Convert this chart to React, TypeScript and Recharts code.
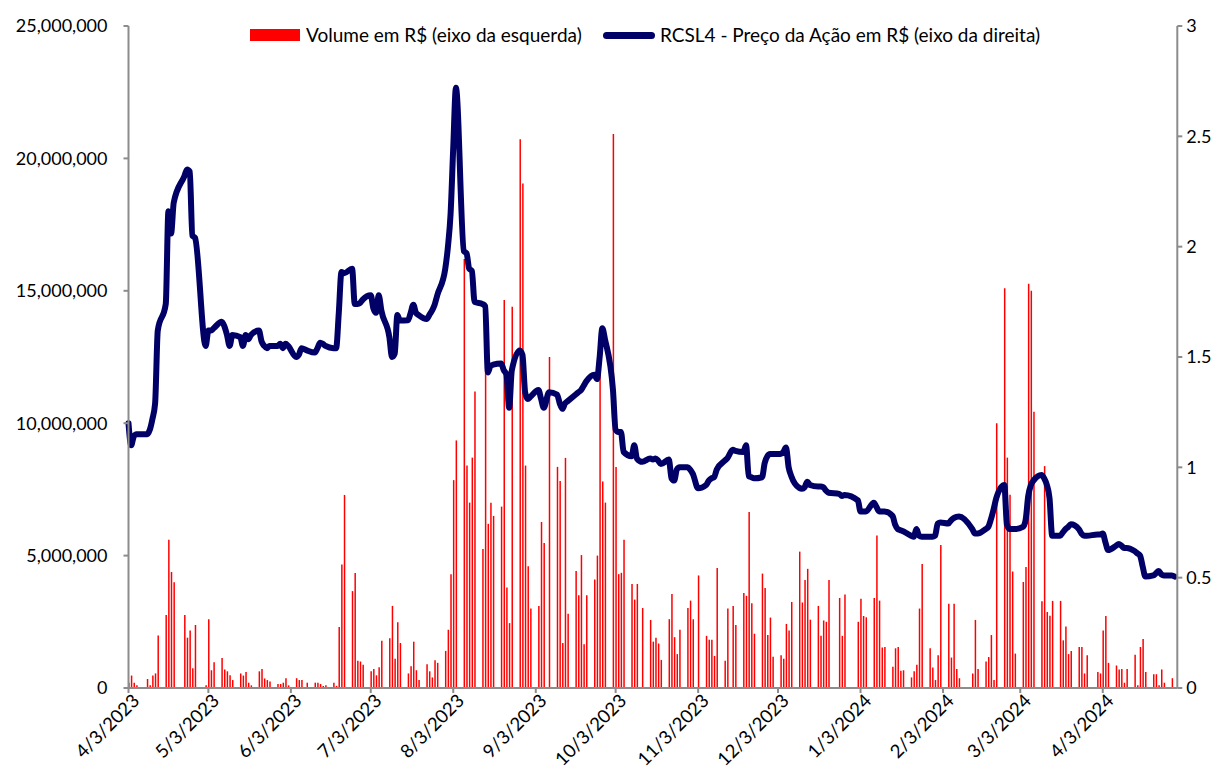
import { ComposedChart, Bar, Line, XAxis, YAxis, Legend } from 'recharts'

// RCSL4 - daily traded volume (R$ millions) and closing price (R$)
const volume: [string, number][] = [
  ['2023-04-03', 0.2], ['2023-04-04', 0.47], ['2023-04-05', 0.2], ['2023-04-06', 0.1],
  ['2023-04-10', 0.34], ['2023-04-11', 0.1], ['2023-04-12', 0.47], ['2023-04-13', 0.55], ['2023-04-14', 1.98],
  ['2023-04-17', 2.76], ['2023-04-18', 5.6], ['2023-04-19', 4.38], ['2023-04-20', 3.99],
  ['2023-04-24', 2.76], ['2023-04-25', 1.9], ['2023-04-26', 2.17], ['2023-04-27', 0.75], ['2023-04-28', 2.38],
  ['2023-05-02', 0.1], ['2023-05-03', 2.6], ['2023-05-04', 0.67], ['2023-05-05', 0.97],
  ['2023-05-08', 1.13], ['2023-05-09', 0.7], ['2023-05-10', 0.63], ['2023-05-11', 0.48], ['2023-05-12', 0.3],
  ['2023-05-15', 0.55], ['2023-05-16', 0.47], ['2023-05-17', 0.6], ['2023-05-18', 0.2], ['2023-05-19', 0.1],
  ['2023-05-22', 0.63], ['2023-05-23', 0.72], ['2023-05-24', 0.36], ['2023-05-25', 0.3], ['2023-05-26', 0.25],
  ['2023-05-29', 0.15], ['2023-05-30', 0.15], ['2023-05-31', 0.2], ['2023-06-01', 0.37], ['2023-06-02', 0.1],
  ['2023-06-05', 0.37], ['2023-06-06', 0.3], ['2023-06-07', 0.3], ['2023-06-09', 0.2],
  ['2023-06-12', 0.2], ['2023-06-13', 0.2], ['2023-06-14', 0.15], ['2023-06-15', 0.08], ['2023-06-16', 0.1],
  ['2023-06-19', 0.2], ['2023-06-20', 0.08], ['2023-06-21', 2.3], ['2023-06-22', 4.66], ['2023-06-23', 7.29],
  ['2023-06-26', 3.66], ['2023-06-27', 4.34], ['2023-06-28', 1.03], ['2023-06-29', 1.0], ['2023-06-30', 0.88],
  ['2023-07-03', 0.63], ['2023-07-04', 0.72], ['2023-07-05', 0.48], ['2023-07-06', 0.78], ['2023-07-07', 1.78],
  ['2023-07-10', 1.88], ['2023-07-11', 3.1], ['2023-07-12', 1.1], ['2023-07-13', 2.48], ['2023-07-14', 1.7],
  ['2023-07-17', 0.55], ['2023-07-18', 0.82], ['2023-07-19', 1.75], ['2023-07-20', 0.67], ['2023-07-21', 0.3],
  ['2023-07-24', 0.9], ['2023-07-25', 0.63], ['2023-07-26', 0.4], ['2023-07-27', 1.05], ['2023-07-28', 0.95],
  ['2023-07-31', 1.4], ['2023-08-01', 2.2], ['2023-08-02', 4.3], ['2023-08-03', 7.85], ['2023-08-04', 9.35],
  ['2023-08-07', 16.2], ['2023-08-08', 8.4], ['2023-08-09', 7.0], ['2023-08-10', 8.7], ['2023-08-11', 11.2],
  ['2023-08-14', 5.25], ['2023-08-15', 12.0], ['2023-08-16', 6.2], ['2023-08-17', 7.0], ['2023-08-18', 6.5],
  ['2023-08-21', 6.85], ['2023-08-22', 14.65], ['2023-08-23', 3.8], ['2023-08-24', 2.45], ['2023-08-25', 14.4],
  ['2023-08-28', 20.72], ['2023-08-29', 19.05], ['2023-08-30', 8.4], ['2023-08-31', 4.6], ['2023-09-01', 3.0],
  ['2023-09-04', 3.1], ['2023-09-05', 6.27], ['2023-09-06', 5.48], ['2023-09-08', 12.5],
  ['2023-09-11', 8.35], ['2023-09-12', 7.82], ['2023-09-13', 1.7], ['2023-09-14', 8.69], ['2023-09-15', 2.8],
  ['2023-09-18', 4.42], ['2023-09-19', 3.5], ['2023-09-20', 5.02], ['2023-09-21', 1.65], ['2023-09-22', 3.5],
  ['2023-09-25', 4.1], ['2023-09-26', 5.0], ['2023-09-27', 12.3], ['2023-09-28', 7.8], ['2023-09-29', 7.0],
  ['2023-10-02', 20.92], ['2023-10-03', 8.35], ['2023-10-04', 4.3], ['2023-10-05', 4.35], ['2023-10-06', 5.6],
  ['2023-10-09', 3.93], ['2023-10-10', 3.34], ['2023-10-11', 3.93], ['2023-10-13', 3.02],
  ['2023-10-16', 2.57], ['2023-10-17', 1.75], ['2023-10-18', 1.9], ['2023-10-19', 1.68], ['2023-10-20', 1.06],
  ['2023-10-23', 2.6], ['2023-10-24', 3.55], ['2023-10-25', 1.92], ['2023-10-26', 1.28], ['2023-10-27', 2.2],
  ['2023-10-30', 3.02], ['2023-10-31', 3.3], ['2023-11-01', 2.6], ['2023-11-03', 4.25],
  ['2023-11-06', 1.97], ['2023-11-07', 1.82], ['2023-11-08', 1.82], ['2023-11-09', 1.21], ['2023-11-10', 4.53],
  ['2023-11-13', 1.03], ['2023-11-14', 3.0], ['2023-11-16', 3.1], ['2023-11-17', 2.38],
  ['2023-11-20', 3.59], ['2023-11-21', 3.48], ['2023-11-22', 6.65], ['2023-11-23', 3.2], ['2023-11-24', 2.05],
  ['2023-11-27', 4.32], ['2023-11-28', 3.78], ['2023-11-29', 2.0], ['2023-11-30', 2.66], ['2023-12-01', 1.18],
  ['2023-12-04', 1.24], ['2023-12-05', 1.1], ['2023-12-06', 2.42], ['2023-12-07', 2.17], ['2023-12-08', 3.25],
  ['2023-12-11', 5.15], ['2023-12-12', 3.23], ['2023-12-13', 4.08], ['2023-12-14', 4.5], ['2023-12-15', 2.58],
  ['2023-12-18', 3.1], ['2023-12-19', 1.97], ['2023-12-20', 2.55], ['2023-12-21', 2.5], ['2023-12-22', 4.08],
  ['2023-12-26', 3.4], ['2023-12-27', 1.97], ['2023-12-28', 3.53],
  ['2024-01-02', 2.5], ['2024-01-03', 3.37], ['2024-01-04', 2.72], ['2024-01-05', 2.67],
  ['2024-01-08', 3.4], ['2024-01-09', 5.76], ['2024-01-10', 3.3], ['2024-01-11', 1.53], ['2024-01-12', 1.55],
  ['2024-01-15', 0.8], ['2024-01-16', 1.5], ['2024-01-17', 1.55], ['2024-01-18', 0.65], ['2024-01-19', 0.67],
  ['2024-01-22', 0.4], ['2024-01-23', 0.63], ['2024-01-24', 0.88], ['2024-01-25', 3.0], ['2024-01-26', 4.68],
  ['2024-01-29', 1.5], ['2024-01-30', 0.77], ['2024-01-31', 0.3], ['2024-02-01', 1.24], ['2024-02-02', 5.4],
  ['2024-02-05', 3.18], ['2024-02-06', 1.15], ['2024-02-07', 3.18], ['2024-02-08', 0.72], ['2024-02-09', 0.37],
  ['2024-02-14', 0.55], ['2024-02-15', 2.57], ['2024-02-16', 0.72],
  ['2024-02-19', 1.0], ['2024-02-20', 1.17], ['2024-02-21', 2.0], ['2024-02-22', 0.3], ['2024-02-23', 10.0],
  ['2024-02-26', 15.1], ['2024-02-27', 8.7], ['2024-02-28', 7.3], ['2024-02-29', 4.4], ['2024-03-01', 1.3],
  ['2024-03-04', 4.0], ['2024-03-05', 4.57], ['2024-03-06', 15.27], ['2024-03-07', 15.0], ['2024-03-08', 10.43],
  ['2024-03-11', 3.28], ['2024-03-12', 8.38], ['2024-03-13', 2.87], ['2024-03-14', 2.73], ['2024-03-15', 3.29],
  ['2024-03-18', 3.29], ['2024-03-19', 1.8], ['2024-03-20', 2.32], ['2024-03-21', 1.28], ['2024-03-22', 1.4],
  ['2024-03-25', 1.55], ['2024-03-26', 1.55], ['2024-03-27', 0.55], ['2024-03-28', 1.24],
  ['2024-04-01', 0.6], ['2024-04-02', 0.55], ['2024-04-03', 2.17], ['2024-04-04', 2.72], ['2024-04-05', 0.95],
  ['2024-04-08', 0.85], ['2024-04-09', 0.7], ['2024-04-10', 0.72], ['2024-04-11', 0.2], ['2024-04-12', 0.72],
  ['2024-04-15', 1.26], ['2024-04-16', 0.1], ['2024-04-17', 1.55], ['2024-04-18', 1.85], ['2024-04-19', 0.6],
  ['2024-04-22', 0.52], ['2024-04-23', 0.52], ['2024-04-24', 0.1], ['2024-04-25', 0.7], ['2024-04-26', 0.2],
  ['2024-04-29', 0.37],
]

const price: [string, number][] = [
  ['2023-04-03', 1.2], ['2023-04-04', 1.1], ['2023-04-05', 1.14], ['2023-04-06', 1.15],
  ['2023-04-10', 1.15], ['2023-04-11', 1.17], ['2023-04-12', 1.22], ['2023-04-13', 1.29], ['2023-04-14', 1.62],
  ['2023-04-17', 1.74], ['2023-04-18', 2.16], ['2023-04-19', 2.06], ['2023-04-20', 2.2],
  ['2023-04-24', 2.32], ['2023-04-25', 2.35], ['2023-04-26', 2.34], ['2023-04-27', 2.05], ['2023-04-28', 2.04],
  ['2023-05-02', 1.55], ['2023-05-03', 1.62], ['2023-05-04', 1.62], ['2023-05-05', 1.63],
  ['2023-05-08', 1.66], ['2023-05-09', 1.64], ['2023-05-10', 1.6], ['2023-05-11', 1.55], ['2023-05-12', 1.6],
  ['2023-05-15', 1.59], ['2023-05-16', 1.55], ['2023-05-17', 1.6], ['2023-05-18', 1.58], ['2023-05-19', 1.6],
  ['2023-05-22', 1.62], ['2023-05-23', 1.57], ['2023-05-24', 1.55], ['2023-05-25', 1.54], ['2023-05-26', 1.55],
  ['2023-05-29', 1.55], ['2023-05-30', 1.56], ['2023-05-31', 1.54], ['2023-06-01', 1.56], ['2023-06-02', 1.55],
  ['2023-06-05', 1.5], ['2023-06-06', 1.51], ['2023-06-07', 1.54], ['2023-06-09', 1.53],
  ['2023-06-12', 1.52], ['2023-06-13', 1.54], ['2023-06-14', 1.565], ['2023-06-15', 1.56], ['2023-06-16', 1.55],
  ['2023-06-19', 1.54], ['2023-06-20', 1.54], ['2023-06-21', 1.7], ['2023-06-22', 1.885], ['2023-06-23', 1.88],
  ['2023-06-26', 1.9], ['2023-06-27', 1.74], ['2023-06-28', 1.74], ['2023-06-29', 1.745], ['2023-06-30', 1.76],
  ['2023-07-03', 1.78], ['2023-07-04', 1.72], ['2023-07-05', 1.7], ['2023-07-06', 1.78], ['2023-07-07', 1.71],
  ['2023-07-10', 1.59], ['2023-07-11', 1.5], ['2023-07-12', 1.515], ['2023-07-13', 1.69], ['2023-07-14', 1.665],
  ['2023-07-17', 1.666], ['2023-07-18', 1.7], ['2023-07-19', 1.737], ['2023-07-20', 1.7], ['2023-07-21', 1.69],
  ['2023-07-24', 1.672], ['2023-07-25', 1.69], ['2023-07-26', 1.71], ['2023-07-27', 1.737], ['2023-07-28', 1.78],
  ['2023-07-31', 1.9], ['2023-08-01', 2.0], ['2023-08-02', 2.15], ['2023-08-03', 2.45], ['2023-08-04', 2.72],
  ['2023-08-07', 1.98], ['2023-08-08', 1.97], ['2023-08-09', 1.9], ['2023-08-10', 1.89], ['2023-08-11', 1.75],
  ['2023-08-14', 1.74], ['2023-08-15', 1.73], ['2023-08-16', 1.43], ['2023-08-17', 1.46], ['2023-08-18', 1.465],
  ['2023-08-21', 1.47], ['2023-08-22', 1.44], ['2023-08-23', 1.42], ['2023-08-24', 1.27], ['2023-08-25', 1.44],
  ['2023-08-28', 1.53], ['2023-08-29', 1.51], ['2023-08-30', 1.34], ['2023-08-31', 1.31], ['2023-09-01', 1.32],
  ['2023-09-04', 1.35], ['2023-09-05', 1.31], ['2023-09-06', 1.27], ['2023-09-08', 1.34],
  ['2023-09-11', 1.33], ['2023-09-12', 1.29], ['2023-09-13', 1.265], ['2023-09-14', 1.29], ['2023-09-15', 1.3],
  ['2023-09-18', 1.33], ['2023-09-19', 1.34], ['2023-09-20', 1.35], ['2023-09-21', 1.37], ['2023-09-22', 1.39],
  ['2023-09-25', 1.42], ['2023-09-26', 1.4], ['2023-09-27', 1.5], ['2023-09-28', 1.63], ['2023-09-29', 1.58],
  ['2023-10-02', 1.35], ['2023-10-03', 1.17], ['2023-10-04', 1.16], ['2023-10-05', 1.16], ['2023-10-06', 1.07],
  ['2023-10-09', 1.05], ['2023-10-10', 1.1], ['2023-10-11', 1.04], ['2023-10-13', 1.025],
  ['2023-10-16', 1.04], ['2023-10-17', 1.035], ['2023-10-18', 1.04], ['2023-10-19', 1.03], ['2023-10-20', 1.015],
  ['2023-10-23', 1.035], ['2023-10-24', 0.95], ['2023-10-25', 0.94], ['2023-10-26', 0.99], ['2023-10-27', 1.0],
  ['2023-10-30', 1.0], ['2023-10-31', 0.99], ['2023-11-01', 0.97], ['2023-11-03', 0.905],
  ['2023-11-06', 0.92], ['2023-11-07', 0.94], ['2023-11-08', 0.95], ['2023-11-09', 0.955], ['2023-11-10', 0.99],
  ['2023-11-13', 1.03], ['2023-11-14', 1.042], ['2023-11-16', 1.08], ['2023-11-17', 1.075],
  ['2023-11-20', 1.07], ['2023-11-21', 1.1], ['2023-11-22', 0.96], ['2023-11-23', 0.955], ['2023-11-24', 0.95],
  ['2023-11-27', 0.955], ['2023-11-28', 1.02], ['2023-11-29', 1.05], ['2023-11-30', 1.06], ['2023-12-01', 1.06],
  ['2023-12-04', 1.06], ['2023-12-05', 1.07], ['2023-12-06', 1.09], ['2023-12-07', 1.0], ['2023-12-08', 0.96],
  ['2023-12-11', 0.907], ['2023-12-12', 0.903], ['2023-12-13', 0.91], ['2023-12-14', 0.935], ['2023-12-15', 0.92],
  ['2023-12-18', 0.913], ['2023-12-19', 0.913], ['2023-12-20', 0.91], ['2023-12-21', 0.895], ['2023-12-22', 0.885],
  ['2023-12-26', 0.88], ['2023-12-27', 0.87], ['2023-12-28', 0.875],
  ['2024-01-02', 0.85], ['2024-01-03', 0.8], ['2024-01-04', 0.8], ['2024-01-05', 0.8],
  ['2024-01-08', 0.84], ['2024-01-09', 0.82], ['2024-01-10', 0.8], ['2024-01-11', 0.8], ['2024-01-12', 0.8],
  ['2024-01-15', 0.78], ['2024-01-16', 0.74], ['2024-01-17', 0.72], ['2024-01-18', 0.715], ['2024-01-19', 0.71],
  ['2024-01-22', 0.69], ['2024-01-23', 0.685], ['2024-01-24', 0.72], ['2024-01-25', 0.69], ['2024-01-26', 0.685],
  ['2024-01-29', 0.685], ['2024-01-30', 0.685], ['2024-01-31', 0.69], ['2024-02-01', 0.745], ['2024-02-02', 0.75],
  ['2024-02-05', 0.745], ['2024-02-06', 0.76], ['2024-02-07', 0.77], ['2024-02-08', 0.775], ['2024-02-09', 0.777],
  ['2024-02-14', 0.72], ['2024-02-15', 0.7], ['2024-02-16', 0.7],
  ['2024-02-19', 0.72], ['2024-02-20', 0.73], ['2024-02-21', 0.765], ['2024-02-22', 0.81], ['2024-02-23', 0.86],
  ['2024-02-26', 0.92], ['2024-02-27', 0.74], ['2024-02-28', 0.72], ['2024-02-29', 0.72], ['2024-03-01', 0.72],
  ['2024-03-04', 0.73], ['2024-03-05', 0.76], ['2024-03-06', 0.87], ['2024-03-07', 0.92], ['2024-03-08', 0.94],
  ['2024-03-11', 0.965], ['2024-03-12', 0.95], ['2024-03-13', 0.92], ['2024-03-14', 0.86], ['2024-03-15', 0.69],
  ['2024-03-18', 0.69], ['2024-03-19', 0.705], ['2024-03-20', 0.72], ['2024-03-21', 0.73], ['2024-03-22', 0.742],
  ['2024-03-25', 0.72], ['2024-03-26', 0.7], ['2024-03-27', 0.69], ['2024-03-28', 0.69],
  ['2024-04-01', 0.696], ['2024-04-02', 0.696], ['2024-04-03', 0.7], ['2024-04-04', 0.66], ['2024-04-05', 0.625],
  ['2024-04-08', 0.645], ['2024-04-09', 0.653], ['2024-04-10', 0.645], ['2024-04-11', 0.635], ['2024-04-12', 0.635],
  ['2024-04-15', 0.62], ['2024-04-16', 0.61], ['2024-04-17', 0.6], ['2024-04-18', 0.55], ['2024-04-19', 0.505],
  ['2024-04-22', 0.51], ['2024-04-23', 0.52], ['2024-04-24', 0.53], ['2024-04-25', 0.515], ['2024-04-26', 0.51],
  ['2024-04-29', 0.51], ['2024-04-30', 0.505],
]

const tickDates = [
  '2023-04-03', '2023-05-03', '2023-06-03', '2023-07-03', '2023-08-03', '2023-09-03', '2023-10-03',
  '2023-11-03', '2023-12-03', '2024-01-03', '2024-02-03', '2024-03-03', '2024-04-03',
]
const volumeTicks = [0, 5000000, 10000000, 15000000, 20000000, 25000000]
const priceTicks = [0, 0.5, 1, 1.5, 2, 2.5, 3]
const seriesNames = ['Volume em R$ (eixo da esquerda)', 'RCSL4 - Preço da Ação em R$ (eixo da direita)']

const FONT = 'Lato, "Liberation Sans", sans-serif'
const AXIS = '#8c8c8c'
const DAY = 86400000
const START = Date.UTC(2023, 3, 3)

const toDay = (s: string) => {
  const [y, m, d] = s.split('-').map(Number)
  return (Date.UTC(y, m - 1, d) - START) / DAY
}

const fmtDate = (t: number) => {
  const d = new Date(START + t * DAY)
  return `${d.getUTCMonth() + 1}/${d.getUTCDate()}/${d.getUTCFullYear()}`
}

// merge both series onto one day-indexed table
const rowMap = new Map<number, { t: number, vol?: number, price?: number }>()
volume.forEach(([d, v]) => {
  const t = toDay(d)
  rowMap.set(t, { ...(rowMap.get(t) || { t }), vol: v * 1000000 })
})
price.forEach(([d, p]) => {
  const t = toDay(d)
  rowMap.set(t, { ...(rowMap.get(t) || { t }), price: p })
})
const rows = Array.from(rowMap.values()).sort((a, b) => a.t - b.t)

function DateTick({ x, y, payload }: any) {
  const ax = x + 12
  const ay = y + 9
  return (
    <text x={ax} y={ay} transform={`rotate(-45 ${ax} ${ay})`} textAnchor="end"
      fontSize={18.5} fontFamily={FONT} fill="#000">
      {fmtDate(payload.value)}
    </text>
  )
}

function ChartLegend() {
  return (
    <div style={{ position: 'relative', width: 1222, height: 30, fontFamily: FONT, fontSize: 19, color: '#000' }}>
      <div style={{ position: 'absolute', left: 250, top: 9, width: 50, height: 12, background: '#ff0000' }} />
      <div style={{ position: 'absolute', left: 306, top: 3, whiteSpace: 'nowrap' }}>{seriesNames[0]}</div>
      <div style={{ position: 'absolute', left: 603, top: 12, width: 52, height: 7, borderRadius: 4, background: '#000066' }} />
      <div style={{ position: 'absolute', left: 660, top: 3, whiteSpace: 'nowrap' }}>{seriesNames[1]}</div>
    </div>
  )
}

export default function App() {
  return (
    <div style={{ position: 'absolute', left: 0, top: 0, width: 1222, height: 771, background: '#fff' }}>
      <ComposedChart width={1222} height={771} data={rows} margin={{ top: 26, right: 0, bottom: 0, left: 0 }}>
        <XAxis
          dataKey="t"
          type="number"
          domain={[0, 394]}
          ticks={tickDates.map(toDay)}
          tick={<DateTick />}
          height={83}
          tickSize={5}
          tickMargin={0}
          interval={0}
          axisLine={{ stroke: AXIS, strokeWidth: 2 }}
          tickLine={{ stroke: AXIS, strokeWidth: 2 }}
        />
        <YAxis
          yAxisId="left"
          orientation="left"
          width={128.5}
          domain={[0, 25000000]}
          ticks={volumeTicks}
          tickFormatter={(v: number) => v.toLocaleString('en-US')}
          tick={{ fontSize: 18, fontFamily: FONT, fill: '#000' }}
          tickSize={5}
          tickMargin={16}
          axisLine={{ stroke: AXIS, strokeWidth: 2 }}
          tickLine={{ stroke: AXIS, strokeWidth: 2 }}
        />
        <YAxis
          yAxisId="right"
          orientation="right"
          width={44.7}
          domain={[0, 3]}
          ticks={priceTicks}
          tick={{ fontSize: 18, fontFamily: FONT, fill: '#000' }}
          tickSize={5}
          tickMargin={4}
          axisLine={{ stroke: AXIS, strokeWidth: 2 }}
          tickLine={{ stroke: AXIS, strokeWidth: 2 }}
        />
        <Legend
          layout="horizontal"
          verticalAlign="middle"
          wrapperStyle={{ top: 20, left: 0, width: 1222 }}
          content={() => <ChartLegend />}
        />
        <Bar yAxisId="left" dataKey="vol" fill="#ff0000" barSize={1.5} isAnimationActive={false} />
        <Line
          yAxisId="right"
          dataKey="price"
          type="monotone"
          stroke="#000066"
          strokeWidth={6}
          strokeLinecap="round"
          strokeLinejoin="round"
          dot={false}
          activeDot={false}
          connectNulls
          isAnimationActive={false}
        />
      </ComposedChart>
    </div>
  )
}
